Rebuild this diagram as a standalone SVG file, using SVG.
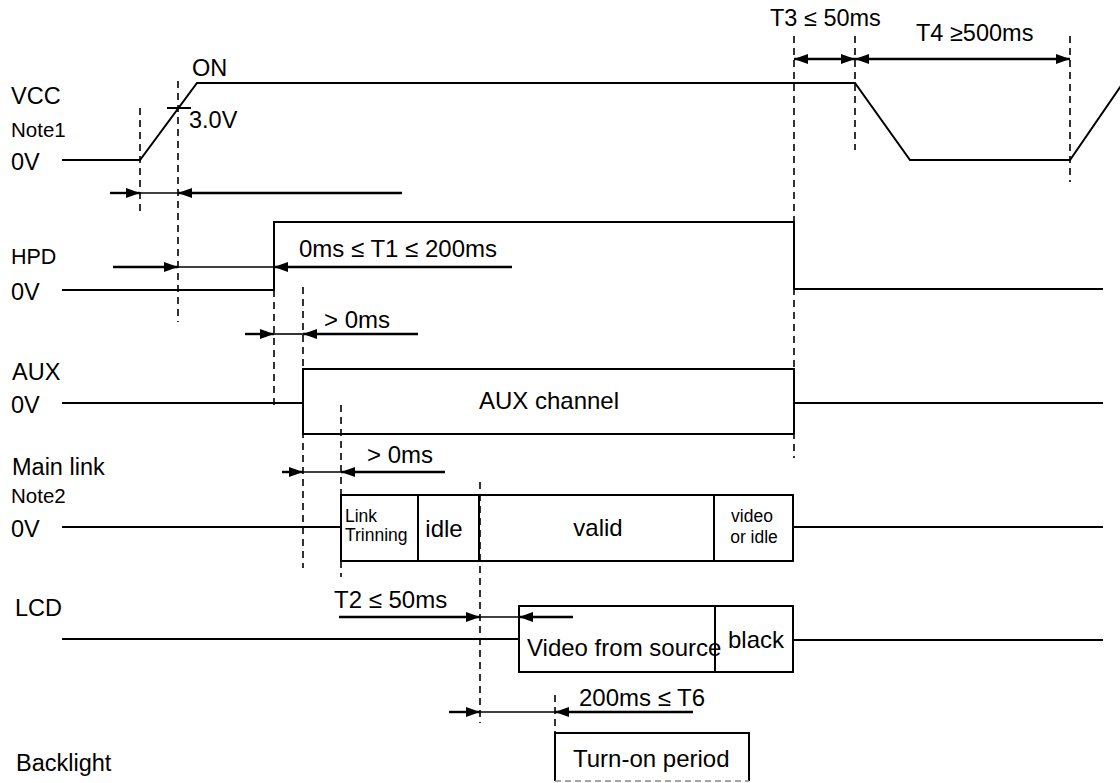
<svg xmlns="http://www.w3.org/2000/svg" width="1120" height="783" viewBox="0 0 1120 783">
<style>
text{font-family:"Liberation Sans",Arial,sans-serif;fill:#000}
.lb{font-size:23.5px}
.hp{font-size:21.5px}
.tx{font-size:24px}
.nt{font-size:20.5px}
.sm{font-size:17.5px}
.sig{fill:none;stroke:#000;stroke-width:2}
.dash{fill:none;stroke:#000;stroke-width:1.6;stroke-dasharray:7,5}
.arr{fill:none;stroke:#000;stroke-width:2.4}
.thin{fill:none;stroke:#000;stroke-width:1.6}
</style>
<defs>
<marker id="ah" viewBox="0 0 14 10" refX="14" refY="5" markerWidth="14" markerHeight="10" markerUnits="userSpaceOnUse" orient="auto-start-reverse"><path d="M0,0 L14,5 L0,10 z" fill="#000"/></marker>
</defs>
<rect width="1120" height="783" fill="#fff"/>

<g id="labels">
<text class="lb" x="11" y="104">VCC</text>
<text class="nt" x="11" y="137">Note1</text>
<text class="lb" x="11" y="170">0V</text>
<text class="hp" x="11" y="264">HPD</text>
<text class="lb" x="11" y="300">0V</text>
<text class="lb" x="12" y="380">AUX</text>
<text class="lb" x="11" y="413">0V</text>
<text class="lb" x="12" y="475">Main link</text>
<text class="nt" x="11" y="503">Note2</text>
<text class="lb" x="11" y="537">0V</text>
<text class="lb" x="15" y="616">LCD</text>
<text class="lb" x="16" y="771">Backlight</text>
</g>

<g id="vcc">
<polyline class="sig" points="62,160 140,160 197,83 855,83 910,160 1070,160 1123,83"/>
<line class="sig" x1="167" y1="108" x2="191" y2="108"/>
<text class="lb" x="192" y="76">ON</text>
<text class="lb" x="189" y="128">3.0V</text>
</g>

<g id="hpd">
<polyline class="sig" points="62,290 274,290 274,222 794,222 794,289 1103,289"/>
</g>

<g id="aux">
<line class="sig" x1="62" y1="403" x2="303" y2="403"/>
<polyline class="sig" points="794,434 303,434 303,369 794,369 794,434"/>
<line class="sig" x1="794" y1="403" x2="1103" y2="403"/>
<text class="tx" x="549" y="409" text-anchor="middle" font-size="25">AUX channel</text>
</g>

<g id="mainlink">
<line class="sig" x1="62" y1="527" x2="341" y2="527"/>
<rect class="sig" x="341" y="495" width="452" height="66"/>
<line class="sig" x1="418" y1="495" x2="418" y2="561"/>
<line class="sig" x1="479" y1="495" x2="479" y2="561"/>
<line class="sig" x1="714" y1="495" x2="714" y2="561"/>
<line class="sig" x1="793" y1="527" x2="1103" y2="527"/>
<text class="sm" x="345" y="522">Link</text>
<text class="sm" x="345" y="541">Trinning</text>
<text class="tx" x="444" y="537" text-anchor="middle">idle</text>
<text class="tx" x="598" y="536" text-anchor="middle">valid</text>
<text class="sm" x="752" y="522" text-anchor="middle">video</text>
<text class="sm" x="754" y="543" text-anchor="middle">or idle</text>
</g>

<g id="lcd">
<line class="sig" x1="62" y1="639" x2="519" y2="639"/>
<rect class="sig" x="519" y="606" width="274" height="66"/>
<line class="sig" x1="715" y1="606" x2="715" y2="672"/>
<line class="sig" x1="793" y1="640" x2="1103" y2="640"/>
<text class="tx" x="527" y="656">Video from source</text>
<text class="tx" x="728" y="648">black</text>
</g>

<g id="backlight">
<polyline class="sig" points="555,781 555,733 749,733 749,781"/>
<line x1="555" y1="781" x2="749" y2="781" stroke="#888" stroke-width="1.5" stroke-dasharray="6,4"/>
<text class="tx" x="573" y="767">Turn-on period</text>
</g>

<g id="connectors">
<line class="dash" x1="140" y1="108" x2="140" y2="213"/>
<line class="dash" x1="178" y1="81" x2="178" y2="322"/>
<line class="dash" x1="274" y1="290" x2="274" y2="408"/>
<line class="dash" x1="303" y1="287" x2="303" y2="568"/>
<line class="dash" x1="341" y1="405" x2="341" y2="577"/>
<line class="dash" x1="480" y1="482" x2="480" y2="723"/>
<line class="dash" x1="555" y1="695" x2="555" y2="733"/>
<line class="dash" x1="794" y1="36" x2="794" y2="458"/>
<line class="dash" x1="855" y1="36" x2="855" y2="150"/>
<line class="dash" x1="1070" y1="36" x2="1070" y2="182"/>

<line class="arr" x1="110" y1="193" x2="140" y2="193" marker-end="url(#ah)"/>
<line class="thin" x1="140" y1="193" x2="178" y2="193"/>
<line class="arr" x1="402" y1="193" x2="178" y2="193" marker-end="url(#ah)"/>

<line class="arr" x1="113" y1="267" x2="178" y2="267" marker-end="url(#ah)"/>
<line class="thin" x1="178" y1="267" x2="274" y2="267"/>
<line class="arr" x1="512" y1="267" x2="274" y2="267" marker-end="url(#ah)"/>
<text class="tx" x="299" y="257">0ms ≤ T1 ≤ 200ms</text>

<line class="arr" x1="245" y1="334" x2="274" y2="334" marker-end="url(#ah)"/>
<line class="thin" x1="274" y1="334" x2="303" y2="334"/>
<line class="arr" x1="418" y1="334" x2="303" y2="334" marker-end="url(#ah)"/>
<text class="tx" x="324" y="328">&gt; 0ms</text>

<line class="arr" x1="282" y1="472" x2="303" y2="472" marker-end="url(#ah)"/>
<line class="thin" x1="303" y1="472" x2="341" y2="472"/>
<line class="arr" x1="445" y1="472" x2="341" y2="472" marker-end="url(#ah)"/>
<text class="tx" x="367" y="463">&gt; 0ms</text>

<line class="arr" x1="339" y1="617" x2="480" y2="617" marker-end="url(#ah)"/>
<line class="thin" x1="480" y1="617" x2="519" y2="617"/>
<line class="arr" x1="573" y1="617" x2="519" y2="617" marker-end="url(#ah)"/>
<text class="tx" x="334" y="608">T2 ≤ 50ms</text>

<line class="arr" x1="449" y1="712" x2="480" y2="712" marker-end="url(#ah)"/>
<line class="thin" x1="480" y1="712" x2="555" y2="712"/>
<line class="arr" x1="693" y1="712" x2="555" y2="712" marker-end="url(#ah)"/>
<text class="tx" x="579" y="706">200ms ≤ T6</text>

<line class="arr" x1="794" y1="59" x2="855" y2="59" marker-start="url(#ah)" marker-end="url(#ah)"/>
<line class="arr" x1="855" y1="59" x2="1070" y2="59" marker-start="url(#ah)" marker-end="url(#ah)"/>
<text class="lb" x="770" y="26">T3 ≤ 50ms</text>
<text class="lb" x="916" y="41">T4 ≥500ms</text>
</g>
</svg>
